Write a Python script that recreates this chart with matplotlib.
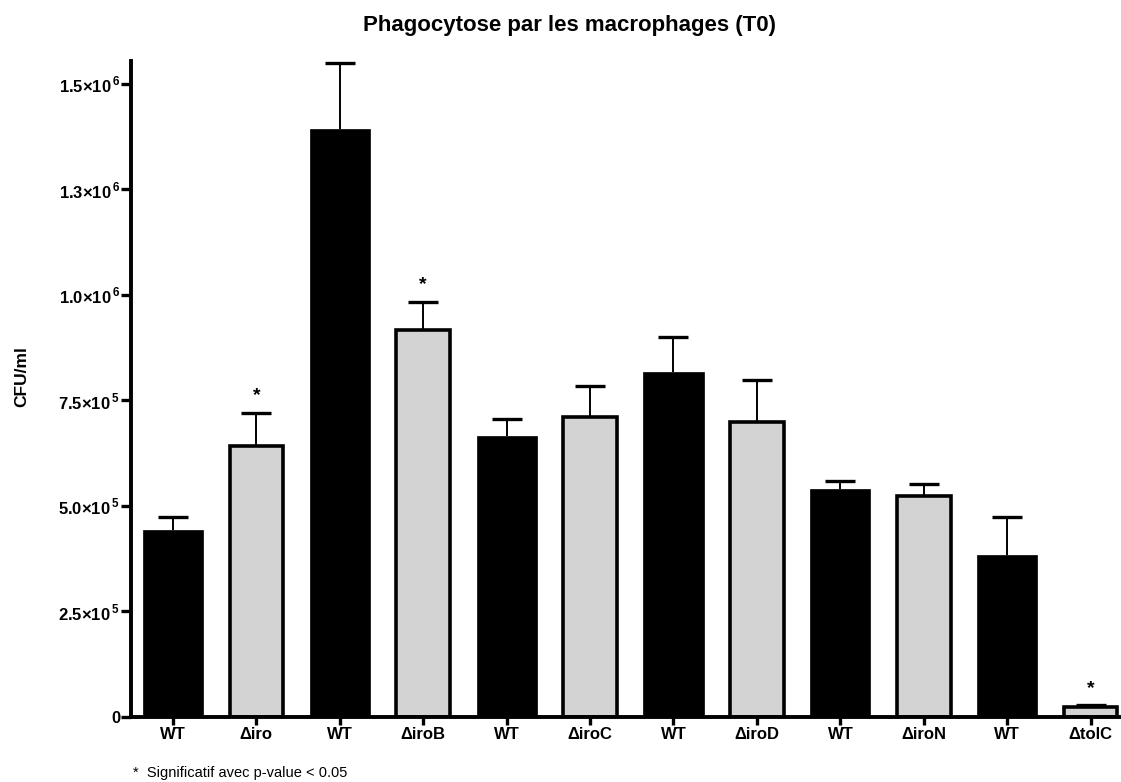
import numpy as np
import matplotlib
matplotlib.use("Agg")
import matplotlib.pyplot as plt
from matplotlib.ticker import FixedLocator, FixedFormatter

plt.rcParams['font.family'] = ['Liberation Sans', 'DejaVu Sans']
plt.rcParams['mathtext.fontset'] = 'custom'
plt.rcParams['mathtext.rm'] = 'Liberation Sans:bold'
plt.rcParams['mathtext.bf'] = 'Liberation Sans:bold'

# souches et valeurs (CFU/ml), moyenne + erreur standard
souches = ["WT", "Δiro", "WT", "ΔiroB", "WT", "ΔiroC",
           "WT", "ΔiroD", "WT", "ΔiroN", "WT", "ΔtolC"]
moyennes = [4.43e5, 6.41e5, 1.392e6, 9.17e5, 6.66e5, 7.11e5,
            8.17e5, 6.98e5, 5.40e5, 5.23e5, 3.84e5, 0.24e5]
erreurs = [0.31e5, 0.80e5, 1.57e5, 0.67e5, 0.40e5, 0.73e5,
           0.83e5, 1.01e5, 0.18e5, 0.29e5, 0.90e5, 0.04e5]
significatif = [False, True, False, True, False, False,
                False, False, False, False, False, True]

yticks = [0, 2.5e5, 5e5, 7.5e5, 1e6, 1.25e6, 1.5e6]
ytick_labels = ["0", r"2.5×10$^{\,5}$", r"5.0×10$^{\,5}$", r"7.5×10$^{\,5}$",
                r"1.0×10$^{\,6}$", r"1.3×10$^{\,6}$", r"1.5×10$^{\,6}$"]

fig = plt.figure(figsize=(11.21, 7.82), dpi=100)
ax = fig.add_axes([0.117, 0.0831, 0.882, 0.8393])

x = np.arange(len(souches))
for i in x:
    haut = moyennes[i] + erreurs[i]
    # barre d'erreur seulement vers le haut, capuchon en haut
    ax.vlines(i, moyennes[i], haut, color="black", linewidth=1.4, zorder=1)
    ax.plot(i, haut, marker="_", markersize=22, markeredgewidth=2.4,
            color="black", zorder=1)
    if i % 2 == 1:
        ax.bar(i, moyennes[i], width=0.64, color="#d3d3d3",
               edgecolor="black", linewidth=2.6, zorder=2)
    else:
        ax.bar(i, moyennes[i], width=0.72, color="black",
               edgecolor="black", linewidth=0.5, zorder=2)
    if significatif[i]:
        ax.annotate("*", (i, haut), xytext=(0, 6),
                    textcoords="offset points", ha="center", va="bottom",
                    fontsize=14, fontweight="bold")

ax.set_xlim(-0.5, 11.35)
ax.set_ylim(0, 1.555e6)
ax.set_xticks(x)
ax.set_xticklabels(souches, fontsize=12, fontweight="bold")
ax.yaxis.set_major_locator(FixedLocator(yticks))
ax.yaxis.set_major_formatter(FixedFormatter(ytick_labels))
for lab in ax.get_yticklabels():
    lab.set_fontsize(12)
    lab.set_fontweight("bold")

for side in ["top", "right"]:
    ax.spines[side].set_visible(False)
for side in ["left", "bottom"]:
    ax.spines[side].set_linewidth(2.8)
ax.tick_params(axis="y", direction="out", length=7, width=2.4, pad=1)
ax.tick_params(axis="x", direction="out", length=6, width=2.4, pad=1)

fig.text(0.508, 0.968, "Phagocytose par les macrophages (T0)",
         ha="center", va="center", fontsize=16, fontweight="bold")
fig.text(0.019, 0.518, "CFU/ml", rotation=90, ha="center", va="center",
         fontsize=12.5, fontweight="bold")
fig.text(0.119, 0.003, "*  Significatif avec p-value < 0.05",
         ha="left", va="bottom", fontsize=10.5)

fig.savefig("out.png", dpi=100)
